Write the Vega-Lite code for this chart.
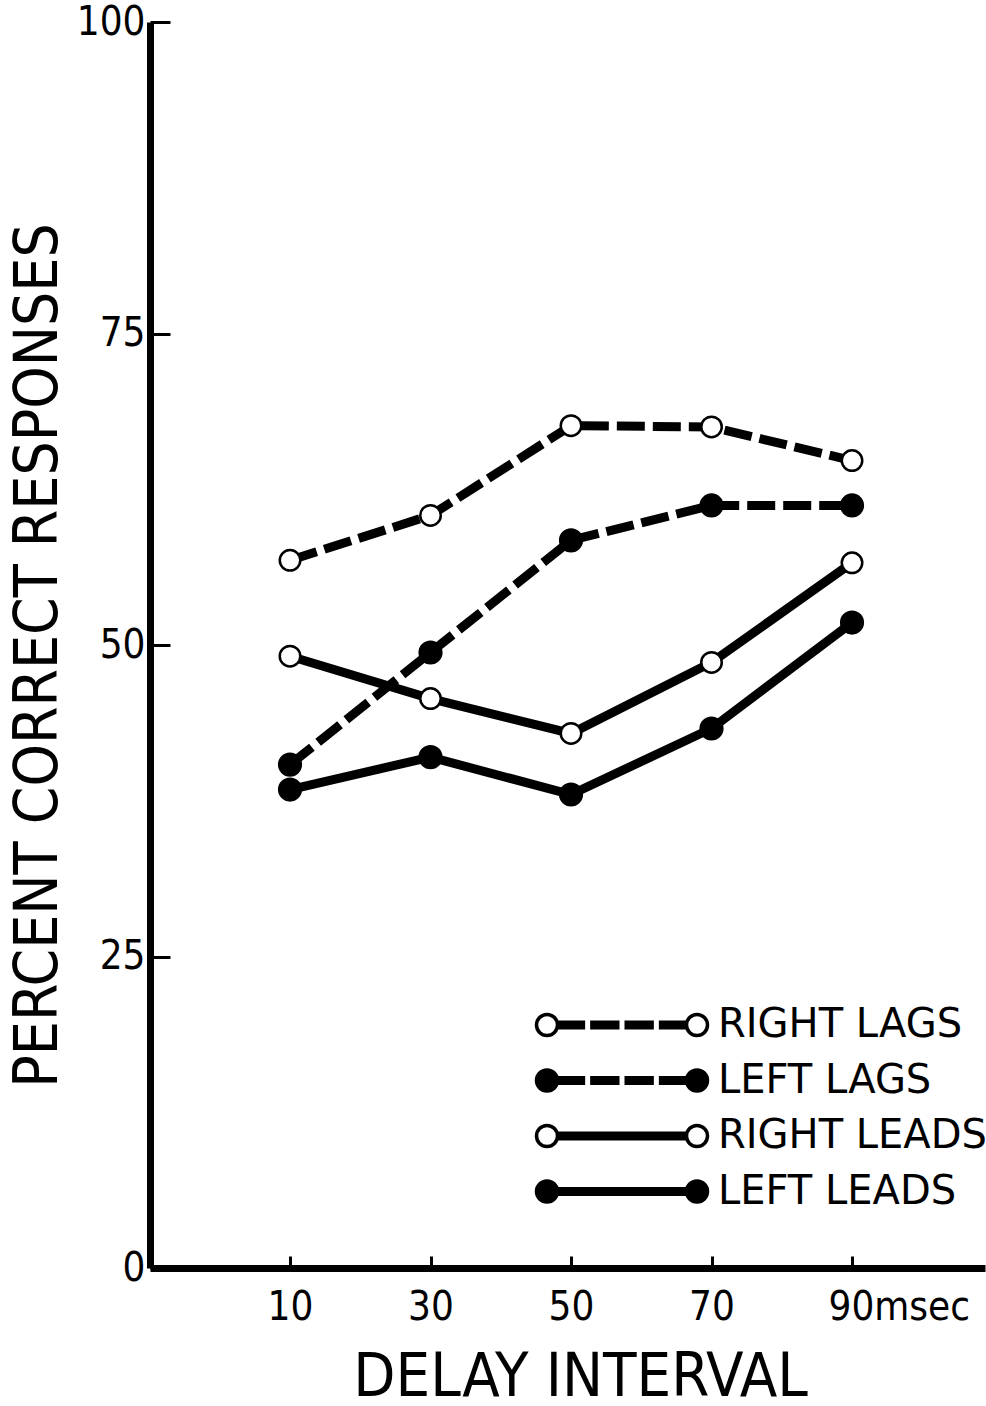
{
  "$schema": "https://vega.github.io/schema/vega-lite/v6.json",
  "width": 835,
  "height": 1246,
  "autosize": {"type": "none"},
  "padding": {"left": 150, "top": 22, "right": 1, "bottom": 138},
  "background": "white",
  "config": {
    "view": {"stroke": null},
    "axis": {"grid": false, "domainColor": "black", "tickColor": "black", "labelColor": "black", "titleColor": "black"}
  },
  "data": {
    "values": [
      {"series": "RIGHT LAGS", "delay": 10, "pct": 56.8},
      {"series": "RIGHT LAGS", "delay": 30, "pct": 60.4},
      {"series": "RIGHT LAGS", "delay": 50, "pct": 67.6},
      {"series": "RIGHT LAGS", "delay": 70, "pct": 67.5},
      {"series": "RIGHT LAGS", "delay": 90, "pct": 64.8},
      {"series": "LEFT LAGS", "delay": 10, "pct": 40.4},
      {"series": "LEFT LAGS", "delay": 30, "pct": 49.4},
      {"series": "LEFT LAGS", "delay": 50, "pct": 58.4},
      {"series": "LEFT LAGS", "delay": 70, "pct": 61.2},
      {"series": "LEFT LAGS", "delay": 90, "pct": 61.2},
      {"series": "RIGHT LEADS", "delay": 10, "pct": 49.1},
      {"series": "RIGHT LEADS", "delay": 30, "pct": 45.7},
      {"series": "RIGHT LEADS", "delay": 50, "pct": 42.9},
      {"series": "RIGHT LEADS", "delay": 70, "pct": 48.6},
      {"series": "RIGHT LEADS", "delay": 90, "pct": 56.6},
      {"series": "LEFT LEADS", "delay": 10, "pct": 38.4},
      {"series": "LEFT LEADS", "delay": 30, "pct": 41.0},
      {"series": "LEFT LEADS", "delay": 50, "pct": 38.0},
      {"series": "LEFT LEADS", "delay": 70, "pct": 43.3},
      {"series": "LEFT LEADS", "delay": 90, "pct": 51.8}
    ]
  },
  "encoding": {
    "x": {
      "field": "delay", "type": "quantitative",
      "scale": {"domain": [-9.93, 108.93], "nice": false, "zero": false},
      "axis": {
        "title": "DELAY INTERVAL",
        "values": [10, 30, 50, 70, 90],
        "domainWidth": 7,
        "tickWidth": 3,
        "tickSize": -12,
        "labelFont": "Liberation Sans Narrow, DejaVu Sans Condensed, Liberation Sans",
        "labelFontSize": 40,
        "labelPadding": 31,
        "labelExpr": "datum.value == 90 ? '90msec' : datum.label",
        "labelAlign": {"condition": {"test": "datum.value == 90", "value": "left"}, "value": "center"},
        "labelOffset": {"condition": {"test": "datum.value == 90", "value": -24}, "value": 0},
        "titleFont": "Liberation Sans Narrow, DejaVu Sans Condensed, Liberation Sans",
        "titleFontSize": 61,
        "titleFontWeight": "normal",
        "titleX": 430,
        "titleY": 127,
        "titleBaseline": "alphabetic",
        "titleAlign": "center"
      }
    },
    "y": {
      "field": "pct", "type": "quantitative",
      "scale": {"domain": [0, 100], "nice": false},
      "axis": {
        "title": "PERCENT CORRECT RESPONSES",
        "values": [0, 25, 50, 75, 100],
        "domainWidth": 7,
        "tickWidth": 3,
        "tickSize": -20,
        "labelFont": "Liberation Sans Narrow, DejaVu Sans Condensed, Liberation Sans",
        "labelFontSize": 40,
        "labelPadding": 25,
        "titleFont": "Liberation Sans Narrow, DejaVu Sans Condensed, Liberation Sans",
        "titleFontSize": 60,
        "titleFontWeight": "normal",
        "titleX": -112,
        "titleY": 633,
        "titleAngle": -90,
        "titleBaseline": "middle",
        "titleAlign": "center"
      }
    }
  },
  "layer": [
    {
      "transform": [{"filter": {"field": "series", "oneOf": ["RIGHT LAGS", "LEFT LAGS"]}}],
      "mark": {"type": "line", "color": "black", "strokeWidth": 9, "strokeCap": "butt", "strokeDash": [28, 8]},
      "encoding": {"detail": {"field": "series"}}
    },
    {
      "transform": [{"filter": {"field": "series", "oneOf": ["RIGHT LEADS", "LEFT LEADS"]}}],
      "mark": {"type": "line", "color": "black", "strokeWidth": 9, "strokeCap": "butt"},
      "encoding": {"detail": {"field": "series"}}
    },
    {
      "transform": [{"filter": {"field": "series", "oneOf": ["RIGHT LAGS", "RIGHT LEADS"]}}],
      "mark": {"type": "point", "shape": "circle", "filled": true, "size": 420, "fill": "white", "stroke": "black", "strokeWidth": 2.5, "opacity": 1}
    },
    {
      "transform": [{"filter": {"field": "series", "oneOf": ["LEFT LAGS", "LEFT LEADS"]}}],
      "mark": {"type": "point", "shape": "circle", "filled": true, "size": 470, "fill": "black", "stroke": "black", "strokeWidth": 2.5, "opacity": 1}
    },
    {
      "transform": [{"filter": "false"}],
      "mark": {"type": "point", "filled": true, "stroke": "black", "strokeWidth": 3.5, "opacity": 1},
      "encoding": {
        "fill": {
          "field": "series", "type": "nominal",
          "scale": {"domain": ["RIGHT LAGS", "LEFT LAGS", "RIGHT LEADS", "LEFT LEADS"], "range": ["white", "black", "white", "black"]},
          "legend": {
            "orient": "none", "legendX": 450, "legendY": 981, "title": null,
            "symbolSize": 1600, "symbolStrokeWidth": 3.5, "symbolStrokeColor": "black",
            "labelFont": "DejaVu Sans", "labelFontSize": 40, "labelColor": "black", "labelOffset": 74, "labelLimit": 0,
            "rowPadding": 13.5, "padding": 0
          }
        },
        "stroke": {
          "field": "series", "type": "nominal",
          "scale": {"domain": ["RIGHT LAGS", "LEFT LAGS", "RIGHT LEADS", "LEFT LEADS"], "range": ["black", "black", "black", "black"]},
          "legend": {
            "orient": "none", "legendX": 450, "legendY": 981, "title": null,
            "symbolSize": 1600, "symbolStrokeWidth": 3.5,
            "labelFont": "DejaVu Sans", "labelFontSize": 40, "labelColor": "black", "labelOffset": 74, "labelLimit": 0,
            "rowPadding": 13.5, "padding": 0
          }
        },
        "shape": {
          "field": "series", "type": "nominal",
          "scale": {
            "domain": ["RIGHT LAGS", "LEFT LAGS", "RIGHT LEADS", "LEFT LEADS"],
            "range": [
              "M -4.275 0 A 0.525 0.525 0 1 1 -3.225 0 A 0.525 0.525 0 1 1 -4.275 0 Z M -3.225 -0.1375 L -1.93 -0.1375 L -1.93 -0.05 L -3.225 -0.05 Z M -3.225 0.05 L -1.93 0.05 L -1.93 0.1375 L -3.225 0.1375 Z M -1.505 -0.1375 L -0.2125 -0.1375 L -0.2125 -0.05 L -1.505 -0.05 Z M -1.505 0.05 L -0.2125 0.05 L -0.2125 0.1375 L -1.505 0.1375 Z M 0.2125 -0.1375 L 1.505 -0.1375 L 1.505 -0.05 L 0.2125 -0.05 Z M 0.2125 0.05 L 1.505 0.05 L 1.505 0.1375 L 0.2125 0.1375 Z M 1.93 -0.1375 L 3.225 -0.1375 L 3.225 -0.05 L 1.93 -0.05 Z M 1.93 0.05 L 3.225 0.05 L 3.225 0.1375 L 1.93 0.1375 Z M 3.225 0 A 0.525 0.525 0 1 1 4.275 0 A 0.525 0.525 0 1 1 3.225 0 Z",
              "M -4.275 0 A 0.525 0.525 0 1 1 -3.225 0 A 0.525 0.525 0 1 1 -4.275 0 Z M -3.225 -0.1375 L -1.93 -0.1375 L -1.93 -0.05 L -3.225 -0.05 Z M -3.225 0.05 L -1.93 0.05 L -1.93 0.1375 L -3.225 0.1375 Z M -1.505 -0.1375 L -0.2125 -0.1375 L -0.2125 -0.05 L -1.505 -0.05 Z M -1.505 0.05 L -0.2125 0.05 L -0.2125 0.1375 L -1.505 0.1375 Z M 0.2125 -0.1375 L 1.505 -0.1375 L 1.505 -0.05 L 0.2125 -0.05 Z M 0.2125 0.05 L 1.505 0.05 L 1.505 0.1375 L 0.2125 0.1375 Z M 1.93 -0.1375 L 3.225 -0.1375 L 3.225 -0.05 L 1.93 -0.05 Z M 1.93 0.05 L 3.225 0.05 L 3.225 0.1375 L 1.93 0.1375 Z M 3.225 0 A 0.525 0.525 0 1 1 4.275 0 A 0.525 0.525 0 1 1 3.225 0 Z",
              "M -4.275 0 A 0.525 0.525 0 1 1 -3.225 0 A 0.525 0.525 0 1 1 -4.275 0 Z M -3.225 -0.1375 L 3.225 -0.1375 L 3.225 -0.05 L -3.225 -0.05 Z M -3.225 0.05 L 3.225 0.05 L 3.225 0.1375 L -3.225 0.1375 Z M 3.225 0 A 0.525 0.525 0 1 1 4.275 0 A 0.525 0.525 0 1 1 3.225 0 Z",
              "M -4.275 0 A 0.525 0.525 0 1 1 -3.225 0 A 0.525 0.525 0 1 1 -4.275 0 Z M -3.225 -0.1375 L 3.225 -0.1375 L 3.225 -0.05 L -3.225 -0.05 Z M -3.225 0.05 L 3.225 0.05 L 3.225 0.1375 L -3.225 0.1375 Z M 3.225 0 A 0.525 0.525 0 1 1 4.275 0 A 0.525 0.525 0 1 1 3.225 0 Z"
            ]
          },
          "legend": {
            "orient": "none", "legendX": 450, "legendY": 981, "title": null,
            "symbolSize": 1600, "symbolStrokeWidth": 3.5, "symbolStrokeColor": "black",
            "labelFont": "DejaVu Sans", "labelFontSize": 40, "labelColor": "black", "labelOffset": 74, "labelLimit": 0,
            "rowPadding": 13.5, "padding": 0
          }
        }
      }
    }
  ]
}
